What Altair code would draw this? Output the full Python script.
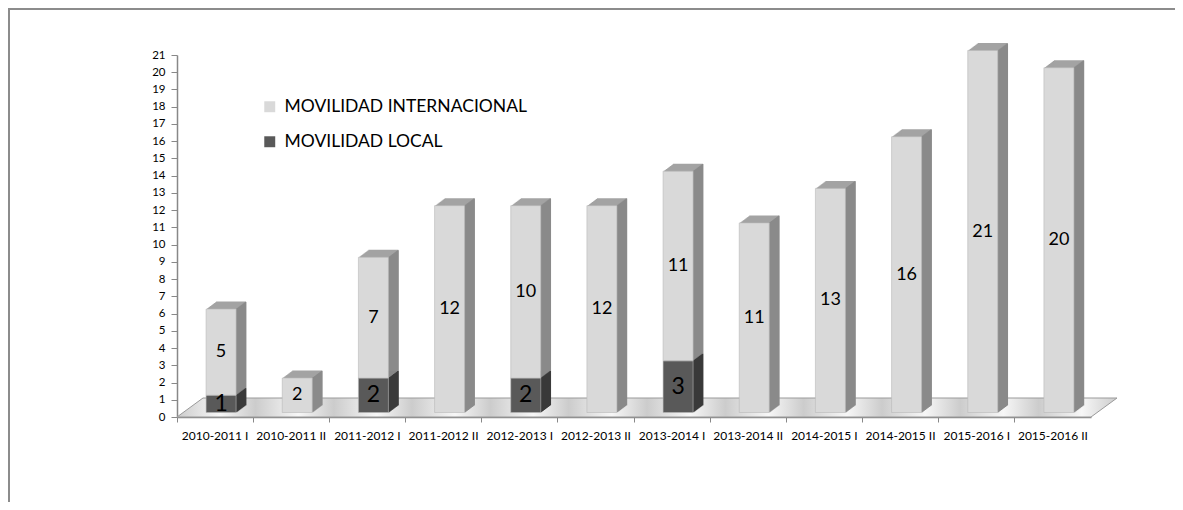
import altair as alt
import pandas as pd

periods = ["2010-2011 I", "2010-2011 II", "2011-2012 I", "2011-2012 II",
           "2012-2013 I", "2012-2013 II", "2013-2014 I", "2013-2014 II",
           "2014-2015 I", "2014-2015 II", "2015-2016 I", "2015-2016 II"]
local = [1, 0, 2, 0, 2, 0, 3, 0, 0, 0, 0, 0]
internacional = [5, 2, 7, 12, 10, 12, 11, 11, 13, 16, 21, 20]
series_names = ["MOVILIDAD INTERNACIONAL", "MOVILIDAD LOCAL"]
y_ticks = list(range(0, 22))

rows = []
for p, l, i in zip(periods, local, internacional):
    rows.append({"period": p, "series": series_names[1], "value": l})
    rows.append({"period": p, "series": series_names[0], "value": i})
df = pd.DataFrame(rows)

W, H = 914, 362
PAD = {"left": 169, "top": 47, "right": 84, "bottom": 85}
FONT = "Lato"
BAR = 30
OX, OY = 6, -4.5          # front face offset (3D projection)
DX, DY, N = 10, 7.5, 10   # bar depth

is_local = alt.datum.series == series_names[1]

base = (
    alt.Chart(df)
    .transform_filter("datum.value > 0")
    .transform_calculate(rank=f"datum.series === '{series_names[1]}' ? 0 : 1")
    .transform_stack(stack="value", groupby=["period"], as_=["v0", "v1"],
                     sort=[alt.SortField("rank", order="ascending")])
    .transform_calculate(mid="(datum.v0 + datum.v1) / 2")
)

x_axis = alt.Axis(labelAngle=0, bandPosition=0, tickSize=5,
                  labelPadding=8, labelFontSize=12, labelFont=FONT,
                  labelColor="#000000", domainColor="#888888",
                  tickColor="#888888", domainWidth=1.5)
y_axis = alt.Axis(values=y_ticks, tickSize=6, labelPadding=6,
                  labelFontSize=11.5, labelFont=FONT, grid=False,
                  labelOverlap=False,
                  labelColor="#000000", domainColor="#888888",
                  tickColor="#888888", domainWidth=1.5)
y_scale = alt.Scale(domain=[0, 21], nice=False)

x_enc = alt.X("period:N", sort=periods, title=None,
              scale=alt.Scale(paddingInner=0, paddingOuter=0), axis=x_axis)
y_enc = alt.Y("v0:Q", title=None, scale=y_scale, axis=y_axis)
y_mid = alt.Y("mid:Q", title=None, scale=y_scale, axis=y_axis)
y2_enc = alt.Y2("v1:Q")

layers = []

# chart frame: top and left edges, kept inside the drawing
one = pd.DataFrame({"a": [0]})
right_edge = W + PAD["right"]
bottom_edge = H + PAD["bottom"]
frame_top = alt.Chart(one).mark_rule(color="#8c8c8c", strokeWidth=2).encode(
    x=alt.value(-PAD["left"]), x2=alt.value(right_edge), y=alt.value(-PAD["top"] + 1))
frame_left = alt.Chart(one).mark_rule(color="#8c8c8c", strokeWidth=2).encode(
    x=alt.value(-PAD["left"] + 1), y=alt.value(-PAD["top"]), y2=alt.value(bottom_edge))
layers += [frame_top, frame_left]

# 3D floor
floor_path = "M -1 0.0202 L 0.9447 0.0202 L 1 -0.0202 L -0.9447 -0.0202 Z"
stops = []
for i in range(12):
    stops.append(alt.GradientStop(color="#cccccc", offset=i / 12))
    stops.append(alt.GradientStop(color="#f7f7f7", offset=(i + 0.55) / 12))
stops.append(alt.GradientStop(color="#cccccc", offset=1))
floor = alt.Chart(one).mark_point(
    shape=floor_path, size=940 * 940, filled=True, opacity=1,
    fill=alt.LinearGradient(gradient="linear", stops=stops, x1=0, x2=1, y1=0, y2=0),
    stroke="#9a9a9a", strokeWidth=1
).encode(x=alt.value(470), y=alt.value(352.5))
layers.append(floor)

# top faces (stacked shifted copies)
for k in range(1, N + 1):
    layers.append(base.mark_bar(
        size=BAR, xOffset=OX + k * DX / N,
        yOffset=OY - k * DY / N, y2Offset=OY - k * DY / N
    ).encode(x=x_enc, y=y_enc, y2=y2_enc,
             fill=alt.condition(is_local, alt.value("#474747"), alt.value("#a3a3a3"))))

# side faces (thin slices)
for k in range(1, N + 1):
    layers.append(base.mark_bar(
        size=DX / N + 0.6, xOffset=OX + BAR / 2 + (k - 0.5) * DX / N,
        yOffset=OY - (k - 0.5) * DY / N, y2Offset=OY - (k - 0.5) * DY / N
    ).encode(x=x_enc, y=y_enc, y2=y2_enc,
             fill=alt.condition(is_local, alt.value("#3a3a3a"), alt.value("#8a8a8a"))))

# front faces
front = base.mark_bar(
    size=BAR, xOffset=OX, yOffset=OY, y2Offset=OY, stroke="#b8b8b8", strokeWidth=0.6
).encode(
    x=x_enc, y=y_enc, y2=y2_enc,
    color=alt.Color("series:N", scale=alt.Scale(domain=series_names,
                                                range=["#d9d9d9", "#595959"]),
                    legend=alt.Legend(title=None, orient="none", legendX=84, legendY=43,
                                      symbolType="square", symbolSize=120,
                                      symbolStrokeWidth=0, labelFontSize=17.5,
                                      labelFont=FONT, labelColor="#000000",
                                      rowPadding=16, labelOffset=6, padding=0,
                                      labelLimit=400))
)
layers.append(front)

lab_int = base.transform_filter(alt.datum.series == series_names[0]).mark_text(
    xOffset=OX, yOffset=OY, fontSize=18, font=FONT, color="#000000"
).encode(x=x_enc, y=y_mid, text="value:Q")
lab_loc = base.transform_filter(is_local).mark_text(
    xOffset=OX, yOffset=OY, fontSize=23, font=FONT, color="#000000"
).encode(x=x_enc, y=y_mid, text="value:Q")
layers += [lab_int, lab_loc]

chart = alt.layer(*layers).properties(
    width=W, height=H,
    padding=PAD,
    autosize=alt.AutoSizeParams(type="none"),
    background="white"
).configure_view(stroke=None)

chart.save("out.html", embed_options={"renderer": "svg", "actions": False})
